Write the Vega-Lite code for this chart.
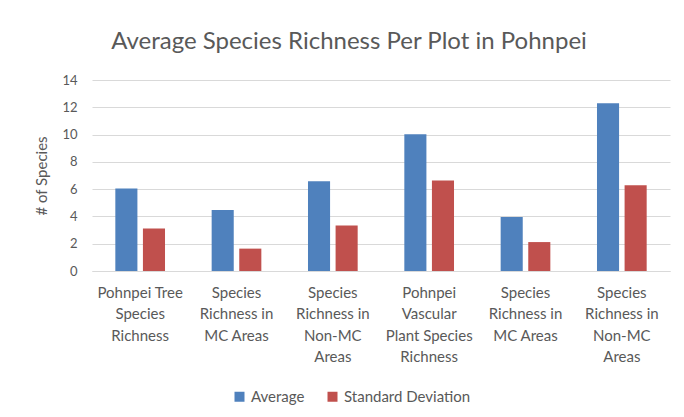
{
  "$schema": "https://vega.github.io/schema/vega-lite/v6.json",
  "width": 578,
  "height": 191,
  "autosize": {"type": "none"},
  "padding": {"left": 92, "top": 80, "right": 14, "bottom": 146},
  "background": "#ffffff",
  "title": {
    "text": "Average Species Richness Per Plot in Pohnpei",
    "font": "Lato",
    "fontSize": 24,
    "fontWeight": "normal",
    "color": "#595959",
    "anchor": "middle",
    "frame": "group",
    "dx": -32,
    "baseline": "alphabetic",
    "offset": 1
  },
  "data": {
    "values": [
      {"cat": "Pohnpei Tree|Species|Richness", "series": "Average", "value": 6.05},
      {"cat": "Pohnpei Tree|Species|Richness", "series": "Standard Deviation", "value": 3.12},
      {"cat": "Species|Richness in|MC Areas", "series": "Average", "value": 4.47},
      {"cat": "Species|Richness in|MC Areas", "series": "Standard Deviation", "value": 1.64},
      {"cat": "Species|Richness in|Non-MC|Areas", "series": "Average", "value": 6.57},
      {"cat": "Species|Richness in|Non-MC|Areas", "series": "Standard Deviation", "value": 3.34},
      {"cat": "Pohnpei|Vascular|Plant Species|Richness", "series": "Average", "value": 10.02},
      {"cat": "Pohnpei|Vascular|Plant Species|Richness", "series": "Standard Deviation", "value": 6.63},
      {"cat": "Species|Richness in|MC Areas ", "series": "Average", "value": 3.95},
      {"cat": "Species|Richness in|MC Areas ", "series": "Standard Deviation", "value": 2.12},
      {"cat": "Species|Richness in|Non-MC|Areas ", "series": "Average", "value": 12.29},
      {"cat": "Species|Richness in|Non-MC|Areas ", "series": "Standard Deviation", "value": 6.29}
    ]
  },
  "mark": {"type": "bar"},
  "encoding": {
    "x": {
      "field": "cat",
      "type": "nominal",
      "sort": null,
      "scale": {"paddingInner": 0, "paddingOuter": 0},
      "axis": {
        "title": null,
        "labelAngle": 0,
        "labelExpr": "split(datum.label, '|')",
        "labelFont": "Lato",
        "labelFontSize": 15,
        "labelColor": "#595959",
        "labelLineHeight": 21.5,
        "labelPadding": 14,
        "labelLimit": 200,
        "ticks": false,
        "domainColor": "#d9d9d9",
        "grid": false
      }
    },
    "xOffset": {
      "field": "series",
      "type": "nominal",
      "scale": {"paddingInner": 0.2, "paddingOuter": 0.845}
    },
    "y": {
      "field": "value",
      "type": "quantitative",
      "scale": {"domain": [0, 14], "nice": false},
      "axis": {
        "title": "# of Species",
        "titleFont": "Lato",
        "titleFontSize": 15,
        "titleFontWeight": "normal",
        "titleColor": "#595959",
        "titlePadding": 12,
        "values": [0, 2, 4, 6, 8, 10, 12, 14],
        "labelFont": "Lato",
        "labelFontSize": 13,
        "labelColor": "#595959",
        "labelPadding": 15,
        "ticks": false,
        "domain": false,
        "gridColor": "#d9d9d9",
        "gridWidth": 1
      }
    },
    "color": {
      "field": "series",
      "type": "nominal",
      "scale": {"domain": ["Average", "Standard Deviation"], "range": ["#4f81bd", "#c0504d"]},
      "legend": {
        "title": null,
        "orient": "none",
        "direction": "horizontal",
        "legendX": 140,
        "legendY": 309,
        "symbolType": "square",
        "symbolSize": 100,
        "symbolStrokeWidth": 0,
        "symbolOpacity": 1,
        "labelFont": "Lato",
        "labelFontSize": 15,
        "labelColor": "#595959",
        "labelOffset": 4,
        "columnPadding": 20
      }
    }
  },
  "config": {
    "view": {"stroke": null}
  }
}
